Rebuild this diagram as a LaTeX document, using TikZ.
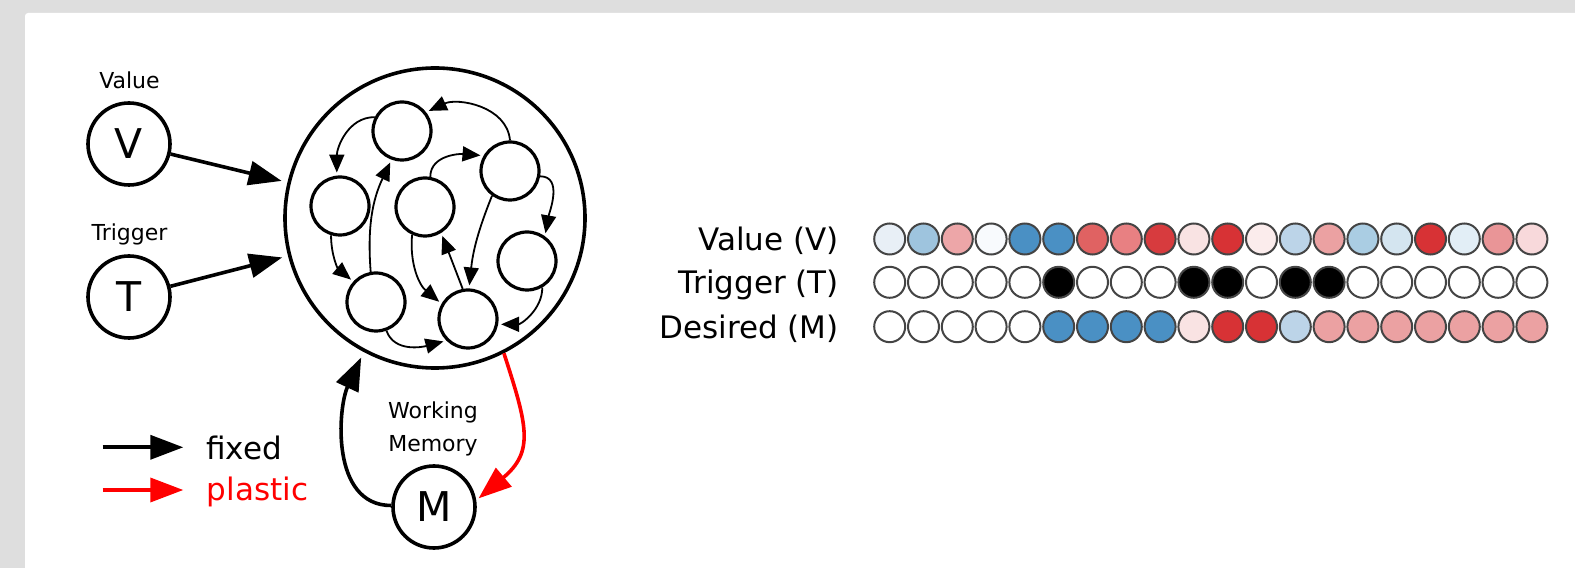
\documentclass[tikz,border=0pt]{standalone}
\usepackage{fontspec}
\setmainfont{DejaVu Sans}
\usetikzlibrary{arrows.meta}
\definecolor{panelgray}{HTML}{DEDEDE}
\definecolor{cellgray}{HTML}{444444}
\definecolor{plasticred}{HTML}{FF0000}
\tikzset{
	input node/.style={circle, draw, line width=3.6pt, minimum size=82pt, inner sep=0, font=\fontsize{41}{41}\selectfont},
	net node/.style={circle, draw, line width=3.6pt, minimum size=300pt, inner sep=0},
	unit node/.style={circle, draw, line width=3.2pt, minimum size=58pt, inner sep=0},
	cell node/.style={circle, draw=cellgray, line width=2pt, minimum size=31pt, inner sep=0},
	small label/.style={font=\fontsize{22}{26}\selectfont, inner sep=0},
	big label/.style={font=\fontsize{31}{36}\selectfont, inner sep=0},
	thick arrow/.style={line width=3.6pt, -{Triangle[length=33pt,width=24pt]}},
	thin arrow/.style={line width=1.8pt, -{Triangle[length=18pt,width=15pt]}, shorten >=3pt},
}

\begin{document}
\begin{tikzpicture}[x=1pt, y=1pt]
\useasboundingbox (0,0) rectangle (1575,568);
\fill[panelgray] (0,0) rectangle (1575,568);
\fill[white, rounded corners=3pt] (25,-10) rectangle (1590,555);

% inputs and network
\node[input node] (V) at (129,424) {V};
\node[input node] (T) at (129,271) {T};
\node[input node] (M) at (434,61) {M};
\node[small label, anchor=base] (vlabel) at (129.5,479) {Value};
\node[small label, anchor=base] (tlabel) at (129.5,327.3) {Trigger};
\node[small label, anchor=base] (wm1) at (433,149) {Working};
\node[small label, anchor=base] (wm2) at (433,116.3) {Memory};
\node[net node] (net) at (435,350) {};

\node[unit node] (u1) at (402,437) {};
\node[unit node] (u2) at (340,362) {};
\node[unit node] (u3) at (425,361) {};
\node[unit node] (u4) at (510,397) {};
\node[unit node] (u5) at (527,307) {};
\node[unit node] (u6) at (376,266) {};
\node[unit node] (u7) at (468,249) {};

\draw[thin arrow] (u1.153) to[out=180, in=90] (u2.96);
\draw[thin arrow] (u4.90) to[out=95, in=25] (u1.38);
\draw[thin arrow] (u3.80) to[out=90, in=175] (u4.150);
\draw[thin arrow] (u4.-10) to[out=0, in=80] (u5.54);
\draw[thin arrow] (u5.-60) to[out=-90, in=0] (u7.-10);
\draw[thin arrow] (u6.-70) to[out=-70, in=195] (u7.-135);
\draw[thin arrow] (u2.253) to[out=-90, in=140] (u6.138);
\draw[thin arrow] (u6.100) to[bend left=15] (u1.-110);
\draw[thin arrow] (u3.245) to[out=-95, in=140] (u7.150);
\draw[thin arrow] (u7.100) -- (u3.-58);
\draw[thin arrow] (u4.234) to[bend right=8] (u7.88);

\draw[thick arrow, shorten >=6pt] (V) -- (net);
\draw[thick arrow, shorten >=6pt] (T) -- (net);
\draw[thick arrow, shorten >=6pt] (M.178) to[out=180, in=245] (net.242);
\draw[thick arrow, plasticred, shorten >=3pt] (net.297) to[out=-72, in=40, looseness=1.3] (M.9);

% legend
\coordinate (fixed start) at (102.7,120.7);
\coordinate (fixed end) at (183.3,120.7);
\coordinate (plastic start) at (102.7,78);
\coordinate (plastic end) at (183.3,78);
\draw[thick arrow] (fixed start) -- (fixed end);
\draw[thick arrow, plasticred] (plastic start) -- (plastic end);
\node[big label, anchor=base west] (fixed) at (206,108.7) {fixed};
\node[big label, anchor=base west, text=plasticred] (plastic) at (206.7,67) {plastic};

% patterns
\node[big label, anchor=base east] (vrow) at (839,317.5) {Value (V)};
\node[big label, anchor=base east] (trow) at (839,274.2) {Trigger (T)};
\node[big label, anchor=base east] (mrow) at (839,229.8) {Desired (M)};

\foreach \h [count=\i] in {E8EFF6,9EC4DE,EDA6A8,F8FAFD,4A90C4,4A90C4,E06262,E88082,D73B3E,F9E3E3,D73235,FBECEC,BCD4E8,EBA1A2,AACDE3,D4E5F0,D73235,E2EEF6,E99597,F8D9DB}{
	\definecolor{cellfill}{HTML}{\h}
	\node[cell node, fill=cellfill] (v\i) at ({889.7+(\i-1)*33.8},329) {};
}
\foreach \c [count=\i] in {white,white,white,white,white,black,white,white,white,black,black,white,black,black,white,white,white,white,white,white}{
	\node[cell node, fill=\c] (t\i) at ({889.7+(\i-1)*33.8},285.7) {};
}
\foreach \h [count=\i] in {FFFFFF,FFFFFF,FFFFFF,FFFFFF,FFFFFF,4A90C4,4A90C4,4A90C4,4A90C4,F9E3E3,D73235,D73235,BCD4E8,EBA1A2,EBA1A2,EBA1A2,EBA1A2,EBA1A2,EBA1A2,EBA1A2}{
	\definecolor{cellfill}{HTML}{\h}
	\node[cell node, fill=cellfill] (m\i) at ({889.7+(\i-1)*33.8},241.3) {};
}
\end{tikzpicture}
\end{document}
